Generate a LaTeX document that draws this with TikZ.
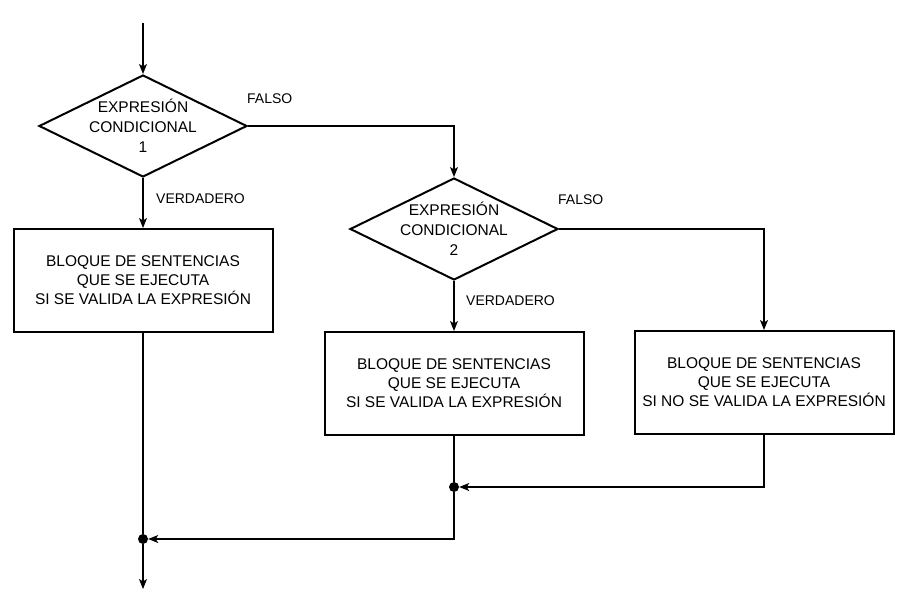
\documentclass[tikz,border=0pt]{standalone}
\usepackage{fontspec}
\setmainfont{Liberation Sans}
\usetikzlibrary{shapes.geometric, arrows.meta}
\tikzset{
  >={Stealth[length=10pt,width=8pt,inset=2.5pt]},
  every node/.style={font=\fontsize{15.5}{19}\selectfont},
  block/.style={draw, line width=2pt, minimum width=259pt, minimum height=103pt, align=center},
  cond/.style={diamond, draw, line width=2pt, minimum width=208pt, minimum height=102pt, aspect=2, inner sep=0pt},
  answer/.style={font=\fontsize{14}{16}\selectfont, anchor=west, inner sep=0pt},
  joint/.style={circle, fill, minimum size=10pt, inner sep=0pt},
  flow/.style={->, line width=1.2pt},
  link/.style={line width=1.2pt},
}

\begin{document}
\begin{tikzpicture}[x=1pt, y=-1pt]
        \useasboundingbox (0,0) rectangle (909,615);
        % shapes
        \coordinate (start) at (143,23);
        \node[cond] (c1) at (143,126) {\smash{\raisebox{-6pt}{\begin{tabular}{c}EXPRESIÓN\\[1pt]CONDICIONAL\\[1pt]1\end{tabular}}}};
        \node[cond] (c2) at (454,229) {\smash{\raisebox{-6pt}{\begin{tabular}{c}EXPRESIÓN\\[1pt]CONDICIONAL\\[1pt]2\end{tabular}}}};
        \node[block] (b1) at (143,280.5) {BLOQUE DE SENTENCIAS\\QUE SE EJECUTA\\SI SE VALIDA LA EXPRESIÓN};
        \node[block] (b2) at (454,383.5) {BLOQUE DE SENTENCIAS\\QUE SE EJECUTA\\SI SE VALIDA LA EXPRESIÓN};
        \node[block] (b3) at (764,382.5) {BLOQUE DE SENTENCIAS\\QUE SE EJECUTA\\SI NO SE VALIDA LA EXPRESIÓN};
        \node[joint] (j1) at (454,487) {};
        \node[joint] (j2) at (143,539) {};
        \coordinate (end) at (143,589);

        % labels
        \node[answer] (f1) at (247,99) {FALSO};
        \node[answer] (v1) at (156,199) {VERDADERO};
        \node[answer] (f2) at (558,200) {FALSO};
        \node[answer] (v2) at (466,301) {VERDADERO};

        % connectors
        \draw[flow] (start) -- (c1);
        \draw[flow] (c1) -- (b1);
        \draw[flow] (c1.east) -| (c2.north);
        \draw[flow] (c2) -- (b2);
        \draw[flow] (c2.east) -| (b3.north);
        \draw[flow] (b3.south) |- (j1);
        \draw[link] (b2) -- (j1);
        \draw[flow] (j1) |- (j2);
        \draw[link] (b1) -- (j2);
        \draw[flow] (j2) -- (end);
\end{tikzpicture}
\end{document}
